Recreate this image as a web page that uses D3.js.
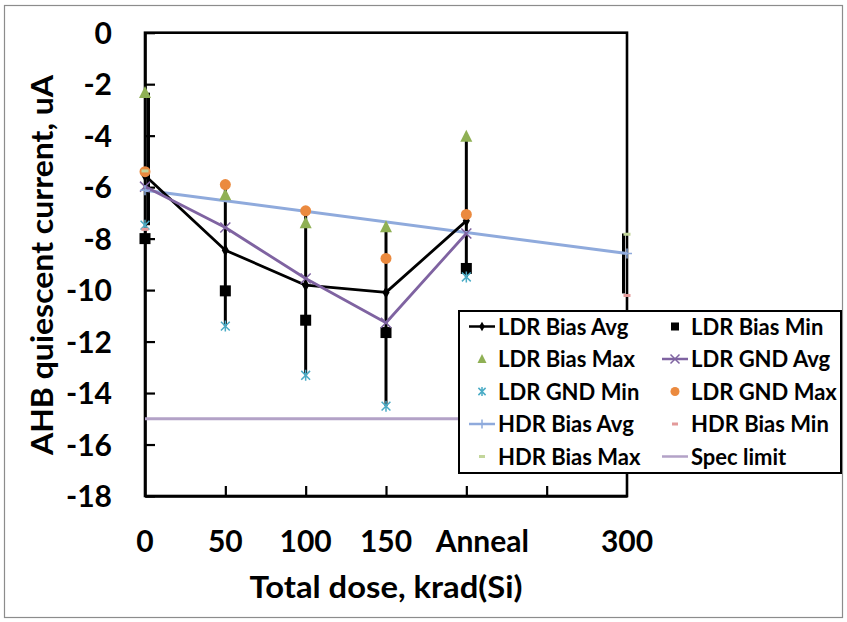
<!DOCTYPE html>
<html><head><meta charset="utf-8">
<script src="https://cdn.jsdelivr.net/npm/d3@7"></script>
<style>
html,body{margin:0;padding:0;background:#fff;}
svg text{font-family:Lato,"Open Sans",sans-serif;font-weight:700;fill:#000;}
</style></head>
<body><svg id="c" width="847" height="622"></svg>
<script>
// ---- data ----
const categories = ["0","50","100","150","Anneal","300"];
const catPos = [0,1,2,3,4,6];          // x index of each category (gap before 300)
const ldrPos = [0,1,2,3,4];
const hdrPos = [0,6];
const yTicks = [0,-2,-4,-6,-8,-10,-12,-14,-16,-18];

const ldrBiasAvg = [-5.55,-8.45,-9.81,-10.09,-7.31];
const ldrBiasMin = [-8.0,-10.03,-11.17,-11.65,-9.16];
const ldrBiasMax = [-2.33,-6.3,-7.39,-7.54,-4.03];
const ldrGndAvg  = [-5.98,-7.57,-9.55,-11.27,-7.8];
const ldrGndMin  = [-7.48,-11.4,-13.31,-14.51,-9.49];
const ldrGndMax  = [-5.4,-5.9,-6.92,-8.77,-7.06];
const hdrBiasAvg = [-6.12,-8.58];
const hdrBiasMin = [-7.64,-10.21];
const hdrBiasMax = [-5.37,-7.83];
const specLimit  = [-15,-15];
const specPos    = [0,6];
const errHigh = [-2.33,-5.9,-6.92,-7.54,-4.03,-7.8];
const errLow  = [-7.48,-11.4,-13.31,-14.51,-9.49,-10.13];

// ---- chart ----
const svg = d3.select("#c");
const x = d3.scaleLinear().domain([0,6]).range([145,627]);
const y = d3.scaleLinear().domain([-18,0]).range([496,32.7]);

svg.append("rect").attr("x",4.5).attr("y",5.5).attr("width",838).attr("height",612)
  .attr("fill","#fff").attr("stroke","#8c8c8c").attr("stroke-width",1.2);

const C = {black:"#000", green:"#8FB054", purple:"#7F63A1", teal:"#4BACC6", orange:"#EB8A3F",
  blue:"#8FAADC", pink:"#E39A9A", lgreen:"#C3D69B", spec:"#B3A2C7"};

// frame
svg.append("rect").attr("x",x(0)).attr("y",y(0)).attr("width",x(6)-x(0)).attr("height",y(-18)-y(0))
  .attr("fill","none").attr("stroke","#000").attr("stroke-width",2.6);

// y axis
const ya = svg.append("g").attr("transform",`translate(${x(0)},0)`)
  .call(d3.axisLeft(y).tickValues(yTicks).tickSizeInner(-10).tickSizeOuter(0).tickPadding(33).tickFormat(d=>String(d)));
ya.select(".domain").attr("stroke","#000").attr("stroke-width",2.6);
ya.selectAll(".tick line").attr("stroke","#000").attr("stroke-width",2.2);
ya.selectAll(".tick text").style("font-size","30px").attr("dy","0.36em");

// x axis
const xa = svg.append("g").attr("transform",`translate(0,${y(-18)})`)
  .call(d3.axisBottom(x).tickValues([1,2,3,4,5]).tickSizeInner(-10).tickSizeOuter(0).tickFormat(""));
xa.select(".domain").attr("stroke","#000").attr("stroke-width",2.6);
xa.selectAll(".tick line").attr("stroke","#000").attr("stroke-width",2.2);
svg.append("g").selectAll("text").data(categories).join("text")
  .attr("x",(d,i)=>x(catPos[i]) + (d==="Anneal"?16:0))
  .attr("y",552).attr("text-anchor","middle").style("font-size","30px").text(d=>d);

// titles
svg.append("text").attr("x",386).attr("y",598).attr("text-anchor","middle").style("font-size","30px")
  .attr("textLength",273).attr("lengthAdjust","spacingAndGlyphs").text("Total dose, krad(Si)");
svg.append("text").attr("transform","translate(53,265) rotate(-90)").attr("text-anchor","middle").style("font-size","30px")
  .attr("textLength",380).attr("lengthAdjust","spacingAndGlyphs").text("AHB quiescent current, uA");

// spec limit
const line = d3.line().x(d=>x(d[0])).y(d=>y(d[1]));
svg.append("path").attr("d",line(specPos.map((p,i)=>[p,specLimit[i]])))
  .attr("fill","none").attr("stroke",C.spec).attr("stroke-width",3);

// error bars
svg.append("g").selectAll("line").data(catPos).join("line")
  .attr("x1",(p)=>x(p)+(p===0?3.5:p===6?-3.5:0)).attr("x2",(p)=>x(p)+(p===0?3.5:p===6?-3.5:0))
  .attr("y1",(p,i)=>y(errHigh[i])).attr("y2",(p,i)=>y(errLow[i]))
  .attr("stroke","#000").attr("stroke-width",3);

// lines
function drawLine(pos, vals, color, w){
  svg.append("path").attr("d",line(pos.map((p,i)=>[p,vals[i]])))
    .attr("fill","none").attr("stroke",color).attr("stroke-width",w).attr("stroke-linejoin","round");
}
drawLine(hdrPos, hdrBiasAvg, C.blue, 3);
drawLine(ldrPos, ldrBiasAvg, C.black, 2.8);
drawLine(ldrPos, ldrGndAvg, C.purple, 2.8);

// marker painters
const M = {
  diamond:(g,c,s)=>g.append("path").attr("d",d3.symbol(d3.symbolDiamond,s*s*0.55)()).attr("fill",c),
  square:(g,c,s)=>g.append("rect").attr("x",-s/2).attr("y",-s/2).attr("width",s).attr("height",s).attr("fill",c),
  triangle:(g,c,s)=>g.append("path").attr("d",`M0,${-s*0.55}L${s/2},${s*0.45}L${-s/2},${s*0.45}Z`).attr("fill",c),
  cross:(g,c,s)=>g.append("path").attr("d",`M${-s/2},${-s/2}L${s/2},${s/2}M${-s/2},${s/2}L${s/2},${-s/2}`).attr("stroke",c).attr("stroke-width",1.5),
  star:(g,c,s)=>g.append("path").attr("d",`M${-s*0.4},${-s*0.4}L${s*0.4},${s*0.4}M${-s*0.4},${s*0.4}L${s*0.4},${-s*0.4}M0,${-s/2}L0,${s/2}`).attr("stroke",c).attr("stroke-width",1.5),
  circle:(g,c,s)=>g.append("circle").attr("r",s/2).attr("fill",c),
  plus:(g,c,s)=>g.append("path").attr("d",`M${-s/2},0L${s/2},0M0,${-s/2}L0,${s/2}`).attr("stroke",c).attr("stroke-width",1.5),
  dash:(g,c,s)=>g.append("rect").attr("x",-s/2).attr("y",-1.5).attr("width",s).attr("height",3).attr("fill",c)
};
function drawMarkers(pos, vals, kind, color, size){
  pos.forEach((p,i)=>{
    const g = svg.append("g").attr("transform",`translate(${x(p)},${y(vals[i])})`);
    M[kind](g,color,size);
  });
}
drawMarkers(ldrPos, ldrBiasAvg, "diamond", C.black, 9);
drawMarkers(ldrPos, ldrBiasMin, "square", C.black, 11);
drawMarkers(ldrPos, ldrBiasMax, "triangle", C.green, 12);
drawMarkers(ldrPos, ldrGndAvg, "cross", C.purple, 10);
drawMarkers(ldrPos, ldrGndMin, "star", C.teal, 11);
drawMarkers(ldrPos, ldrGndMax, "circle", C.orange, 11);
drawMarkers(hdrPos, hdrBiasAvg, "plus", C.blue, 10);
drawMarkers(hdrPos, hdrBiasMin, "dash", C.pink, 7);
drawMarkers(hdrPos, hdrBiasMax, "dash", C.lgreen, 7);

// legend
const legendItems = [
  {name:"LDR Bias Avg", kind:"diamond", color:C.black, line:true, size:7},
  {name:"LDR Bias Min", kind:"square", color:C.black, line:false, size:8},
  {name:"LDR Bias Max", kind:"triangle", color:C.green, line:false, size:9},
  {name:"LDR GND Avg", kind:"cross", color:C.purple, line:true, size:9},
  {name:"LDR GND Min", kind:"star", color:C.teal, line:false, size:9},
  {name:"LDR GND Max", kind:"circle", color:C.orange, line:false, size:9},
  {name:"HDR Bias Avg", kind:"plus", color:C.blue, line:true, size:9},
  {name:"HDR Bias Min", kind:"dash", color:C.pink, line:false, size:6},
  {name:"HDR Bias Max", kind:"dash", color:C.lgreen, line:false, size:6},
  {name:"Spec limit", kind:null, color:C.spec, line:true, size:0}
];
const lg = svg.append("g");
lg.append("rect").attr("x",459).attr("y",311).attr("width",382).attr("height",162)
  .attr("fill","#fff").attr("stroke","#000").attr("stroke-width",2);
legendItems.forEach((d,i)=>{
  const col = i%2, row = Math.floor(i/2);
  const sx = col===0?482:675, cy = 326.5 + row*32.5;
  const g = lg.append("g").attr("transform",`translate(${sx},${cy})`);
  if(d.line) g.append("line").attr("x1",-13).attr("x2",13).attr("stroke",d.color).attr("stroke-width",2.5);
  if(d.kind) M[d.kind](g,d.color,d.size);
  lg.append("text").attr("x",sx+16).attr("y",cy+8).style("font-size","22px").text(d.name);
});
</script></body></html>
